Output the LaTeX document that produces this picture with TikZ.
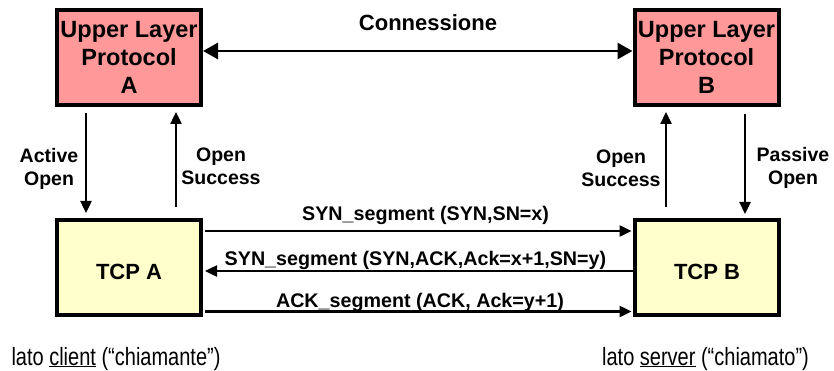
\documentclass[tikz,border=0pt]{standalone}
\usepackage{graphicx}
\usepackage{fontspec}
\setmainfont{Liberation Sans}
\usetikzlibrary{arrows.meta}
\definecolor{ulpink}{RGB}{255,153,153}
\definecolor{tcpyel}{RGB}{255,255,204}
\begin{document}
\begin{tikzpicture}[x=1pt,y=-1pt,
  ulbox/.style={draw,line width=4pt,fill=ulpink,minimum width=144pt,minimum height=95pt,inner sep=0pt,align=center,font=\fontsize{23.5}{28.3}\selectfont\bfseries},
  tcpbox/.style={draw,line width=4pt,fill=tcpyel,minimum width=144pt,minimum height=95pt,inner sep=0pt,text height=24pt,text depth=0pt,font=\fontsize{22}{26}\selectfont\bfseries},
  lbl/.style={align=center,inner sep=0pt,font=\fontsize{19.5}{23}\selectfont\bfseries},
  msg/.style={anchor=base,inner sep=0pt,font=\fontsize{19.7}{23}\selectfont\bfseries},
  side/.style={anchor=base,inner sep=0pt,font=\fontsize{25}{30}\selectfont},
  arr/.style={line width=2.4pt,-{Triangle[length=12pt,width=11pt]}},
  bigarr/.style={line width=2.8pt,{Triangle[length=15pt,width=16pt]}-{Triangle[length=15pt,width=16pt]}},
]
\useasboundingbox (0,0) rectangle (834,371);
\node[ulbox] (ulA) at (129,57.5) {Upper Layer\\Protocol\\A};
\node[ulbox] (ulB) at (706.5,57.5) {Upper Layer\\Protocol\\B};
\node[tcpbox] (tcpA) at (129,267.5) {TCP A};
\node[tcpbox] (tcpB) at (707,267.5) {TCP B};

\coordinate (cy) at (0,51);
\coordinate (xa1) at (86,0);
\coordinate (xa2) at (176,0);
\coordinate (xb1) at (666,0);
\coordinate (xb2) at (745,0);
\coordinate (r1) at (0,231);
\coordinate (r2) at (0,271);
\coordinate (r3) at (0,311.5);

\node[lbl,font=\fontsize{22}{26}\selectfont\bfseries] (conn) at (428,23) {Connessione};
\draw[bigarr] (ulA.east |- cy) -- (ulB.west |- cy);

\draw[arr,shorten <=6pt,shorten >=5pt] (ulA.south -| xa1) -- (tcpA.north -| xa1);
\draw[arr,shorten <=11pt,shorten >=5pt] (tcpA.north -| xa2) -- (ulA.south -| xa2);
\draw[arr,shorten <=11pt,shorten >=5pt] (tcpB.north -| xb1) -- (ulB.south -| xb1);
\draw[arr,shorten <=7pt,shorten >=4pt] (ulB.south -| xb2) -- (tcpB.north -| xb2);

\node[lbl] (ao) at (49,168.5) {Active\\Open};
\node[lbl] (osa) at (221,166) {Open\\Success};
\node[lbl] (osb) at (621,168.5) {Open\\Success};
\node[lbl] (po) at (793,167.5) {Passive\\Open};

\draw[arr,shorten <=2pt,shorten >=1.5pt] (tcpA.east |- r1) -- (tcpB.west |- r1);
\draw[arr,shorten >=2pt] (tcpB.west |- r2) -- (tcpA.east |- r2);
\draw[arr,shorten <=2pt,shorten >=1.5pt] (tcpA.east |- r3) -- (tcpB.west |- r3);

\node[msg] (m1) at (425.6,221) {SYN\_segment (SYN,SN=x)};
\node[msg] (m2) at (415.5,265.5) {SYN\_segment (SYN,ACK,Ack=x+1,SN=y)};
\node[msg] (m3) at (420,307) {ACK\_segment (ACK, Ack=y+1)};

\node[side] (cl) at (116,365) {\scalebox{0.8}[1]{lato \underline{client} (“chiamante”)}};
\node[side] (sv) at (705.5,365) {\scalebox{0.8}[1]{lato \underline{server} (“chiamato”)}};
\end{tikzpicture}
\end{document}
